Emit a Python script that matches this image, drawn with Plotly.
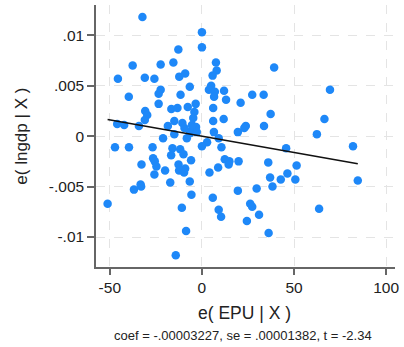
import plotly.graph_objects as go

# Residual data (e(EPU|X), e(lngdp|X))
epu_resid = [
    -32.3, 0.0, 0.0, -12.8, -37.6, -22.4, -15.5, 7.6, 8.0, 5.8,
    39.2, -45.6, -31.0, -25.8, -12.3, -9.1, -6.6, -22.4, -23.5, -39.7,
    -11.6, 5.0, 3.8, 7.0, 12.0, 6.6, 27.3, 33.5, 69.5, 13.1,
    21.0, -23.5, -30.8, -29.7, -16.6, -13.3, -7.7, -3.4, 6.1, -4.1,
    -4.7, -31.0, -15.0, -18.5, -46.0, -42.2, -34.2, -10.6, -9.5, -3.2,
    -5.5, -2.8, -6.5, 6.1, 11.8, 37.3, 66.5, 23.8, 23.0, 19.5,
    33.7, 62.4, 6.5, 9.1, 10.6, 2.8, 0.0, 45.7, 82.0, -15.0,
    -21.1, -8.2, -47.2, -39.6, -26.8, -16.0, -11.8, -10.0, -16.7, -26.5,
    -25.6, -24.7, -32.8, -5.9, 12.4, 14.9, 14.5, 19.9, 36.0, 51.4,
    8.8, -12.7, -9.1, 4.1, 46.4, 37.0, 38.3, 42.8, 50.7, 84.6,
    -25.8, -20.0, -12.4, -9.7, -17.2, -6.6, -5.7, -33.3, -36.9, -33.0,
    -51.2, 29.7, 19.5, 5.9, 26.2, 27.3, 31.0, 63.6, -10.9, 9.1,
    10.4, 24.4, 36.2, -8.6, -14.2, -5.4,
]
lngdp_resid = [
    0.0118, 0.0103, 0.0088, 0.0086, 0.0070, 0.0071, 0.0073, 0.0073, 0.0065, 0.0060,
    0.0068, 0.0057, 0.0058, 0.0057, 0.0059, 0.0062, 0.0049, 0.0046, 0.0042, 0.0039,
    0.0041, 0.0050, 0.0046, 0.0044, 0.0045, 0.0039, 0.0041, 0.0041, 0.0046, 0.0036,
    0.0033, 0.0032, 0.0025, 0.0021, 0.0027, 0.0028, 0.0029, 0.0032, 0.0028, 0.0024,
    0.0018, 0.0016, 0.0015, 0.0010, 0.0012, 0.0011, 0.0010, 0.0013, 0.0008, 0.0009,
    0.0006, 0.0004, 0.0003, 0.0015, 0.0017, 0.0022, 0.0017, 0.0010, 0.0008, 0.0004,
    0.0010, 0.0002, 0.0004, -0.0002, -0.0011, -0.0006, -0.0010, -0.0012, -0.0010, 0.0002,
    -0.0002, -0.0002, -0.0011, -0.0011, -0.0011, -0.0012, -0.0013, -0.0018, -0.0019, -0.0022,
    -0.0025, -0.0030, -0.0028, -0.0024, -0.0023, -0.0025, -0.0028, -0.0025, -0.0026, -0.0029,
    -0.0031, -0.0028, -0.0032, -0.0036, -0.0037, -0.0041, -0.0050, -0.0043, -0.0043, -0.0044,
    -0.0038, -0.0034, -0.0034, -0.0036, -0.0046, -0.0045, -0.0058, -0.0048, -0.0053, -0.0050,
    -0.0067, -0.0052, -0.0054, -0.0061, -0.0067, -0.0070, -0.0078, -0.0072, -0.0071, -0.0073,
    -0.0080, -0.0084, -0.0096, -0.0094, -0.0118, 0.0011,
]

coef = -0.00003227
note_text = "coef = -.00003227, se = .00001382, t = -2.34"

x_tickvals = [-50, 0, 50, 100]
x_ticktext = ["-50", "0", "50", "100"]
y_tickvals = [-0.01, -0.005, 0, 0.005, 0.01]
y_ticktext = ["-.01", "-.005", "0", ".005", ".01"]

line_x = [min(epu_resid), max(epu_resid)]
line_y = [coef * v for v in line_x]

FONT = "Liberation Sans, Arial, sans-serif"

fig = go.Figure()
fig.add_trace(go.Scatter(
    x=epu_resid, y=lngdp_resid, mode="markers",
    marker=dict(color="#1e88f8", size=8.5, line=dict(width=0)),
    showlegend=False, hoverinfo="skip",
))
fig.add_trace(go.Scatter(
    x=line_x, y=line_y, mode="lines",
    line=dict(color="#111111", width=1.6),
    showlegend=False, hoverinfo="skip",
))

axis_common = dict(
    showgrid=True, gridcolor="#e4e4e4", griddash="dash", gridwidth=1,
    zeroline=False, showline=True, linecolor="#666666", linewidth=1.5,
    ticks="outside", tickcolor="#666666", tickwidth=1.5,
    tickfont=dict(family=FONT, size=15.5, color="#222222"),
)

fig.update_xaxes(range=[-57.5, 104.8], tickvals=x_tickvals, ticktext=x_ticktext,
                 ticklen=6, **axis_common)
fig.update_yaxes(range=[-0.01297, 0.0130], tickvals=y_tickvals, ticktext=y_ticktext,
                 ticklen=7, **axis_common)

fig.update_layout(
    width=404, height=347,
    margin=dict(l=96, r=6, t=5, b=80),
    paper_bgcolor="white", plot_bgcolor="white",
    font=dict(family=FONT, color="#222222"),
    annotations=[
        dict(text="e( lngdp | X )", xref="paper", yref="paper", x=-0.252, y=0.5,
             textangle=-90, showarrow=False, xanchor="center", yanchor="middle",
             font=dict(size=17, family=FONT, color="#222222")),
        dict(text="e( EPU | X )", xref="paper", yref="paper", x=0.495, y=-0.177,
             showarrow=False, xanchor="center", yanchor="middle",
             font=dict(size=17.5, family=FONT, color="#222222")),
        dict(text=note_text, xref="paper", yref="paper", x=0.493, y=-0.261,
             showarrow=False, xanchor="center", yanchor="middle",
             font=dict(size=13, family=FONT, color="#222222")),
    ],
)

fig.write_html("out.html")
